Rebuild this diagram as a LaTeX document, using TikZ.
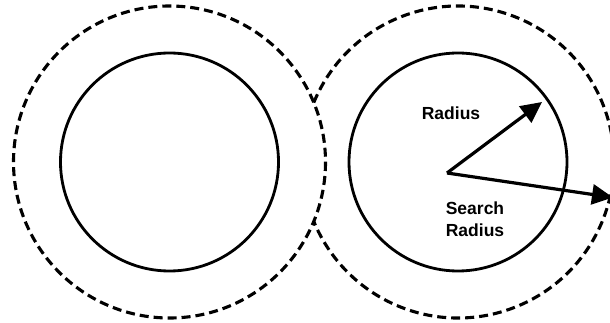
\documentclass[tikz,border=0pt]{standalone}
\usepackage{fontspec}
\setmainfont{Liberation Sans}
\usetikzlibrary{arrows.meta}
\begin{document}
\begin{tikzpicture}[x=1pt,y=-1pt,
  dashcircle/.style={line width=3.1pt,dash pattern=on 9pt off 5pt},
  solidcircle/.style={line width=2.8pt},
  vec/.style={line width=3.2pt,-{Triangle[length=21pt,width=20pt]}},
  lbl/.style={inner sep=0pt,font=\fontsize{17.5}{22}\selectfont\bfseries,align=center}]
\useasboundingbox (0,0) rectangle (610,323);
\clip (0,0) rectangle (610,323);
\fill[white] (0,0) rectangle (610,323);
% centres
\coordinate (cl) at (169.5,162);
\coordinate (cr) at (458,162);
% left pair
\draw[dashcircle] (cl) circle[radius=156];
\draw[solidcircle] (cl) circle[radius=109];
% right pair
\draw[dashcircle] (cr) ++(-157.6:156) arc[start angle=-157.6,end angle=157.6,radius=156];
\draw[solidcircle] (cr) circle[radius=109];
% vectors
\coordinate (o) at (447,173);
\coordinate (t1) at (542,102);
\coordinate (t2) at (613,197.5);
\draw[vec] (o) -- (t1);
\draw[vec] (o) -- (t2);
% labels
\node[lbl] (r1) at (451,113) {Radius};
\node[lbl] (r2) at (475,219) {Search\\Radius};
\end{tikzpicture}
\end{document}
